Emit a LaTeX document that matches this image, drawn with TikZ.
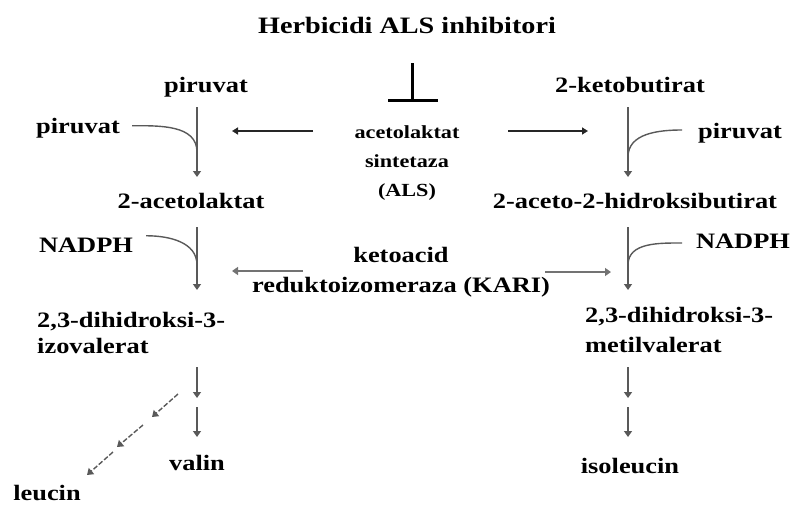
\documentclass[tikz,border=0pt]{standalone}
\usepackage{fontspec}
\setmainfont{Liberation Serif}[FakeStretch=1.2]
\usepackage{tikz}
\usetikzlibrary{arrows.meta}
\tikzstyle{met} = [inner sep=0pt, font=\fontsize{22}{27}\selectfont\bfseries, anchor=base]
\tikzstyle{enz} = [inner sep=0pt, font=\fontsize{18.5}{29}\selectfont\bfseries, align=center, anchor=base]
\tikzstyle{flow} = [draw=black!65, line width=1.4pt, -{Triangle[length=6pt,width=8pt]}]
\tikzstyle{side} = [draw=black!65, line width=1.4pt]
\tikzstyle{act} = [draw=black!85, line width=1.8pt, -{Triangle[length=6pt,width=7pt]}]

\begin{document}
\begin{tikzpicture}[x=1pt,y=-1pt]

            \useasboundingbox (0,0) rectangle (793,506);

            %% inhibitor and enzymes

            \node (herb) [met, font=\fontsize{23.5}{28}\selectfont\bfseries] at (407,34) {Herbicidi ALS inhibitori};
            \node (als) [enz] at (407,196) {acetolaktat\\sintetaza\\(ALS)};
            \node (kari) [met, align=center, font=\fontsize{22}{30}\selectfont\bfseries] at (401,292) {ketoacid\\reduktoizomeraza (KARI)};

            \coordinate (tt) at (412,63);
            \coordinate (tb) at (412,100);
            \draw [line width=3pt] (tt) -- (tb);
            \draw [line width=3pt] (388,100) -- (438,100);

            \coordinate (alsL) at (313,131);
            \coordinate (alsLt) at (232,131);
            \coordinate (alsR) at (508,131);
            \coordinate (alsRt) at (588,131);
            \draw [act] (alsL) -- (alsLt);
            \draw [act] (alsR) -- (alsRt);

            \coordinate (kariL) at (303,271);
            \coordinate (kariLt) at (232,271);
            \coordinate (kariR) at (545,272);
            \coordinate (kariRt) at (611,272);
            \draw [flow, draw=black!55] (kariL) -- (kariLt);
            \draw [flow, draw=black!55] (kariR) -- (kariRt);

            %% valin / leucin

            \coordinate (L) at (197,0);

            \node (pirA) [met] at (206,92) {piruvat};
            \node (pirB) [met] at (78,133) {piruvat};
            \node (acl) [met] at (191,208) {2-acetolaktat};
            \node (nadA) [met] at (86,252) {NADPH};
            \node (dhiv) [met, anchor=base west, align=left, font=\fontsize{22}{26}\selectfont\bfseries] at (37,353) {2,3-dihidroksi-3-\\izovalerat};
            \node (val) [met] at (197,470) {valin};
            \node (leu) [met] at (47,500) {leucin};

            \draw [flow] (L |- 0,107) -- (L |- 0,177);
            \draw [side] (pirB.east) ++(12,-2) to[out=0, in=90] (L |- 0,152);
            \draw [flow] (L |- 0,227) -- (L |- 0,290);
            \draw [side] (nadA.east) ++(13,-9) to[out=0, in=90] (L |- 0,265);
            \draw [flow] (L |- 0,367) -- (L |- 0,398);
            \draw [flow] (L |- 0,407) -- (L |- 0,437);

            \coordinate (d1) at (178,394);
            \coordinate (d2) at (152,417);
            \coordinate (d3) at (143,425);
            \coordinate (d4) at (117,447);
            \coordinate (d5) at (113,452);
            \coordinate (d6) at (87,475);
            \draw [flow, dash pattern=on 5pt off 2pt] (d1) -- (d2);
            \draw [flow, dash pattern=on 5pt off 2pt] (d3) -- (d4);
            \draw [flow, dash pattern=on 5pt off 2pt] (d5) -- (d6);

            %% isoleucin

            \coordinate (R) at (628,0);

            \node (kbut) [met] at (630,92) {2-ketobutirat};
            \node (pirC) [met] at (740,138) {piruvat};
            \node (ahb) [met] at (635,208) {2-aceto-2-hidroksibutirat};
            \node (nadB) [met] at (743,248) {NADPH};
            \node (dhmv) [met, anchor=base west, align=left, font=\fontsize{22}{30}\selectfont\bfseries] at (585,352) {2,3-dihidroksi-3-\\metilvalerat};
            \node (ile) [met] at (630,473) {isoleucin};

            \draw [flow] (R |- 0,107) -- (R |- 0,177);
            \draw [side] (682,130) to[out=180, in=90] (R |- 0,157);
            \draw [flow] (R |- 0,227) -- (R |- 0,290);
            \draw [side] (682,243) to[out=180, in=90] (R |- 0,265);
            \draw [flow] (R |- 0,367) -- (R |- 0,398);
            \draw [flow] (R |- 0,407) -- (R |- 0,437);

        \end{tikzpicture}
\end{document}
